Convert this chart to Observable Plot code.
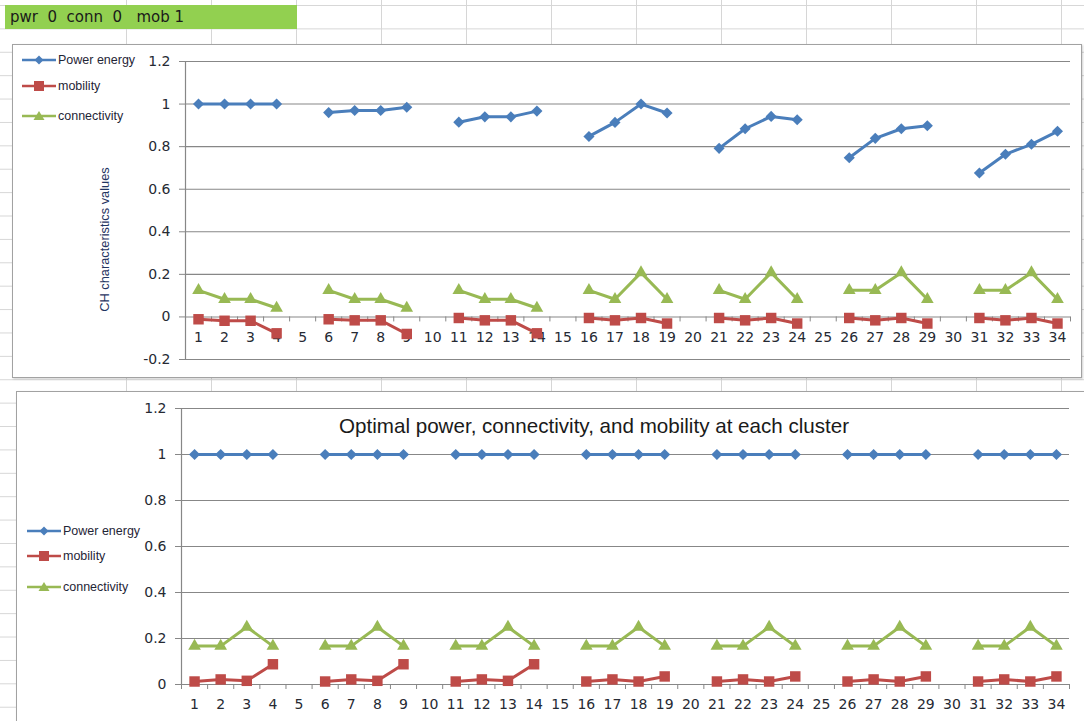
<!DOCTYPE html>
<html>
<head>
<meta charset="utf-8">
<script src="https://cdn.jsdelivr.net/npm/d3@7"></script>
<script src="https://cdn.jsdelivr.net/npm/@observablehq/plot@0.6"></script>
<style>
  html, body { margin: 0; padding: 0; }
  body { width: 1084px; height: 721px; overflow: hidden; position: relative; background: #fff;
         font-family: "Liberation Sans", Arial, sans-serif; }
  #rows { position: absolute; left: 0; top: 0; width: 1084px; height: 721px;
          background-image: linear-gradient(to bottom, #d6d6d6 1px, transparent 1px);
          background-size: 100% 23.4px; background-position: 0 5px; }
  #cols { position: absolute; left: 126px; top: 0; width: 958px; height: 721px;
          background-image: linear-gradient(to right, #d6d6d6 1px, transparent 1px);
          background-size: 85px 100%; }
  #header { position: absolute; left: 5px; top: 5px; width: 292px; height: 24px; background: #92d050;
            color: #1a1a1a; font-family: "DejaVu Sans", Verdana, sans-serif; font-size: 15px; line-height: 25px;
            padding-left: 5px; box-sizing: border-box; white-space: pre; }
  .frame { position: absolute; background: #fff; border: 1.5px solid #a2a2a2; box-sizing: border-box;
           box-shadow: 1px 1px 2px rgba(0,0,0,0.18); }
  .plot { position: absolute; left: 0; }
  .legend { position: absolute; font-size: 12.5px; color: #1f2536; }
  .legend .item { position: absolute; white-space: nowrap; display: flex; align-items: center; height: 14px; }
  .legend svg { display: block; margin-right: 2px; }
  #title2 { position: absolute; left: 339px; top: 414px; font-size: 20.6px; color: #1a1a1a; white-space: nowrap; }
</style>
</head>
<body>
<div id="rows"></div>
<div id="cols"></div>
<div id="header"></div>
<div class="frame" style="left:12px;top:44px;width:1070px;height:334px;"></div>
<div class="frame" style="left:16px;top:391px;width:1080px;height:345px;"></div>
<div id="title2"></div>
<script>
// ---------- data ----------
const categories = [1,2,3,4,5,6,7,8,9,10,11,12,13,14,15,16,17,18,19,20,21,22,23,24,25,26,27,28,29,30,31,32,33,34];
const xLabels = ["1","2","3","4","5","6","7","8","9","10","11","12","13","14","15","16","17","18","19","20",
                 "21","22","23","24","25","26","27","28","29","30","31","32","33","34"];
const seriesNames = ["Power energy", "mobility", "connectivity"];
const seriesColors = ["#4a7ebb", "#be4b48", "#98b954"];
const seriesSymbols = ["diamond2", "square", "triangle"];

// top chart (pwr 0 conn 0 mob 1)
const topPower = [1, 1, 1, 1, null, 0.96, 0.97, 0.97, 0.985, null, 0.915, 0.94, 0.94, 0.967, null,
                  0.848, 0.914, 1.0, 0.958, null, 0.792, 0.884, 0.942, 0.926, null,
                  0.748, 0.839, 0.884, 0.898, null, 0.676, 0.764, 0.811, 0.872];
const topMobility = [-0.011, -0.018, -0.018, -0.077, null, -0.011, -0.016, -0.016, -0.08, null,
                     -0.005, -0.016, -0.016, -0.077, null, -0.005, -0.016, -0.005, -0.031, null,
                     -0.005, -0.016, -0.005, -0.031, null, -0.005, -0.016, -0.005, -0.031, null,
                     -0.005, -0.016, -0.005, -0.031];
const topConnectivity = [0.125, 0.083, 0.083, 0.042, null, 0.125, 0.083, 0.083, 0.042, null,
                         0.125, 0.083, 0.083, 0.042, null, 0.125, 0.083, 0.208, 0.083, null,
                         0.125, 0.083, 0.208, 0.083, null, 0.125, 0.125, 0.208, 0.083, null,
                         0.125, 0.125, 0.208, 0.083];

// bottom chart (optimal)
const bottomPower = [1, 1, 1, 1, null, 1, 1, 1, 1, null, 1, 1, 1, 1, null, 1, 1, 1, 1, null,
                     1, 1, 1, 1, null, 1, 1, 1, 1, null, 1, 1, 1, 1];
const bottomMobility = [0.013, 0.022, 0.016, 0.088, null, 0.013, 0.022, 0.016, 0.088, null,
                        0.013, 0.022, 0.016, 0.088, null, 0.013, 0.022, 0.013, 0.035, null,
                        0.013, 0.022, 0.013, 0.035, null, 0.013, 0.022, 0.013, 0.035, null,
                        0.013, 0.022, 0.013, 0.035];
const bottomConnectivity = [0.167, 0.167, 0.25, 0.167, null, 0.167, 0.167, 0.25, 0.167, null,
                            0.167, 0.167, 0.25, 0.167, null, 0.167, 0.167, 0.25, 0.167, null,
                            0.167, 0.167, 0.25, 0.167, null, 0.167, 0.167, 0.25, 0.167, null,
                            0.167, 0.167, 0.25, 0.167];

const topTicks = [-0.2, 0, 0.2, 0.4, 0.6, 0.8, 1, 1.2];
const bottomTicks = [0, 0.2, 0.4, 0.6, 0.8, 1, 1.2];
const headerText = "pwr  0  conn  0   mob 1";
const bottomTitle = "Optimal power, connectivity, and mobility at each cluster";
const yLabel = "CH characteristics values";

// ---------- style ----------
const GRID = "#878787";
const TEXT = "#262a33";
const symbolR = [5, 5.9, 4.7];
const fmt = d => String(+d.toFixed(1));
const bounds = categories.map(c => c - 0.5).concat([categories[categories.length - 1] + 0.5]);

function chart({series, ticks, top, height, marginLeft, marginRight, marginTop, marginBottom, labelDy, withYLabel}) {
  const marks = [
    Plot.gridY(ticks, {stroke: GRID, strokeOpacity: 1, strokeWidth: 1.1}),
    Plot.ruleX([bounds[0]], {stroke: GRID, strokeWidth: 1.2}),
    Plot.axisY(ticks, {tickSize: 6, tickPadding: 9, tickFormat: fmt, stroke: GRID, fill: TEXT, label: null}),
    Plot.ruleX(bounds, {x: d => d, y1: 0, y2: 0, insetBottom: -5, stroke: GRID}),
    Plot.text(categories, {x: d => d, y: 0, text: (d, i) => xLabels[i], dy: labelDy, fill: TEXT})
  ];
  if (withYLabel) {
    marks.push(Plot.text([yLabel], {frameAnchor: "left", textAnchor: "middle", text: d => d, rotate: -90,
      dx: -81, dy: 29, fontSize: 12.8, fontFamily: "Liberation Sans, Arial, sans-serif", fill: "#1f3461"}));
  }
  series.forEach((vals, k) => {
    marks.push(Plot.line(categories, {x: d => d, y: (d, i) => vals[i], stroke: seriesColors[k], strokeWidth: 3}));
    marks.push(Plot.dot(categories, {x: d => d, y: (d, i) => vals[i], symbol: seriesSymbols[k],
      fill: seriesColors[k], stroke: "none", r: symbolR[k]}));
  });
  const svg = Plot.plot({
    width: 1084, height, marginLeft, marginRight, marginTop, marginBottom,
    x: {type: "linear", domain: [bounds[0], bounds[bounds.length - 1]], axis: null},
    y: {domain: [ticks[0], ticks[ticks.length - 1]]},
    style: {fontFamily: "DejaVu Sans, Verdana, sans-serif", fontSize: "14px", background: "transparent", overflow: "visible"},
    marks
  });
  svg.classList.add("plot");
  svg.style.top = top + "px";
  document.body.appendChild(svg);
}

chart({series: [topPower, topMobility, topConnectivity], ticks: topTicks, top: 44, height: 333,
       marginLeft: 185, marginRight: 14, marginTop: 17, marginBottom: 18, labelDy: 21, withYLabel: true});
chart({series: [bottomPower, bottomMobility, bottomConnectivity], ticks: bottomTicks, top: 391, height: 330,
       marginLeft: 181, marginRight: 15, marginTop: 17, marginBottom: 37, labelDy: 20, withYLabel: false});

document.getElementById("header").textContent = headerText;
document.getElementById("title2").textContent = bottomTitle;

// ---------- legends ----------
function swatch(k) {
  const w = 34, h = 14, cx = w / 2, cy = h / 2;
  let m;
  if (k === 0) m = `<path d="M${cx},${cy-4.5} L${cx+4.5},${cy} L${cx},${cy+4.5} L${cx-4.5},${cy}Z" fill="${seriesColors[k]}"/>`;
  else if (k === 1) m = `<rect x="${cx-5}" y="${cy-5}" width="10" height="10" fill="${seriesColors[k]}"/>`;
  else m = `<path d="M${cx},${cy-5} L${cx+5.5},${cy+4} L${cx-5.5},${cy+4}Z" fill="${seriesColors[k]}"/>`;
  return `<svg width="${w}" height="${h}"><line x1="0" x2="${w}" y1="${cy}" y2="${cy}" stroke="${seriesColors[k]}" stroke-width="2.6"/>${m}</svg>`;
}
function legend(left, tops) {
  const div = document.createElement("div");
  div.className = "legend";
  div.style.left = left + "px";
  div.style.top = "0px";
  seriesNames.forEach((name, k) => {
    const it = document.createElement("div");
    it.className = "item";
    it.style.top = (tops[k] - 7) + "px";
    it.innerHTML = swatch(k) + `<span>${name}</span>`;
    div.appendChild(it);
  });
  document.body.appendChild(div);
}
legend(22, [60, 86, 116]);
legend(27, [531, 556, 587]);
</script>
</body>
</html>
